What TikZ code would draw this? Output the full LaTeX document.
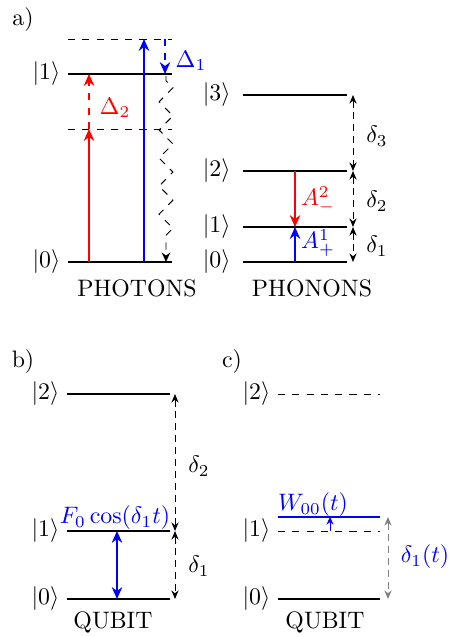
\documentclass[tikz,border=0pt]{standalone}
\usepackage{amsmath}
\usepackage{tikz}
\usetikzlibrary{arrows.meta,positioning,calc,decorations.pathmorphing}
\tikzset{
  level/.style={thick},
  virtlevel/.style={thin, dashed},
  pumparrow/.style={-{Stealth[length=5pt,width=4.4pt]}, semithick},
  twoarrow/.style={{Stealth[length=5pt,width=4.4pt]}-{Stealth[length=5pt,width=4.4pt]}, semithick},
  gaparrow/.style={{Stealth[length=3.6pt,width=3pt]}-{Stealth[length=3.6pt,width=3pt]}, densely dashed, thin},
  decayarrow/.style={-{Stealth[length=4pt,width=3.6pt]}, thin, dashed, decorate,
    decoration={zigzag, segment length=11.8pt, amplitude=2.9pt, pre length=2pt, post length=8pt}},
  ketlabel/.style={left, inner sep=3pt},
  panellabel/.style={inner sep=1pt},
  casetitle/.style={inner sep=1pt}
}

\begin{document}
\begin{tikzpicture}[x=0.42pt, y=-0.42pt]
\useasboundingbox (0,0) rectangle (451,637);

% a) photons
\node[panellabel] (laba) at (23,20) {a)};
\coordinate (pvtl) at (68,39);  \coordinate (pvtr) at (172,39);
\coordinate (p1l) at (68,74);   \coordinate (p1r) at (172,74);
\coordinate (pvml) at (68,129); \coordinate (pvmr) at (172,129);
\coordinate (p0l) at (68,262);  \coordinate (p0r) at (172,262);
\draw[virtlevel] (pvtl) -- (pvtr);
\draw[virtlevel] (pvml) -- (pvmr);
\draw[level] (p1l) -- (p1r);
\draw[level] (p0l) -- (p0r);
\node[ketlabel] (kp1) at (p1l) {$|1\rangle$};
\node[ketlabel] (kp0) at (p0l) {$|0\rangle$};

\coordinate (red0) at (89,262); \coordinate (redm) at (89,129); \coordinate (red1) at (89,74);
\coordinate (blu0) at (144,262); \coordinate (blut) at (144,39);
\coordinate (dett) at (165,39); \coordinate (det1) at (165,74);
\coordinate (zz1) at (166,76); \coordinate (zz0) at (166,262);
\draw[pumparrow, red] (red0) -- (redm);
\draw[pumparrow, red, dashed] (redm) -- (red1);
\draw[pumparrow, blue] (blu0) -- (blut);
\draw[pumparrow, blue, dashed] (dett) -- (det1);
\draw[decayarrow] (zz1) -- (zz0);
\node[blue] (del1) at (191,61) {$\Delta_1$};
\node[red] (del2) at (115,108) {$\Delta_2$};
\node[casetitle] (photons) at (137,288) {PHOTONS};

% phonons
\coordinate (n3l) at (243,95);  \coordinate (n3r) at (347,95);
\coordinate (n2l) at (243,171); \coordinate (n2r) at (347,171);
\coordinate (n1l) at (243,227); \coordinate (n1r) at (347,227);
\coordinate (n0l) at (243,262); \coordinate (n0r) at (347,262);
\draw[level] (n3l) -- (n3r);
\draw[level] (n2l) -- (n2r);
\draw[level] (n1l) -- (n1r);
\draw[level] (n0l) -- (n0r);
\node[ketlabel, xshift=-2pt] (kn3) at (n3l) {$|3\rangle$};
\node[ketlabel, xshift=-2pt] (kn2) at (n2l) {$|2\rangle$};
\node[ketlabel, xshift=-2pt] (kn1) at (n1l) {$|1\rangle$};
\node[ketlabel, xshift=-2pt] (kn0) at (n0l) {$|0\rangle$};

\coordinate (am2) at (295,171); \coordinate (am1) at (295,227); \coordinate (am0) at (295,262);
\draw[pumparrow, red] (am2) -- (am1);
\draw[pumparrow, blue] (am0) -- (am1);
\node[red] (aminus) at (318,200) {$A^2_-$};
\node[blue] (aplus) at (318,243) {$A^1_+$};
\draw[gaparrow] ($(n3r)+(6,0)$) -- ($(n2r)+(6,0)$);
\draw[gaparrow] ($(n2r)+(6,0)$) -- ($(n1r)+(6,0)$);
\draw[gaparrow] ($(n1r)+(6,0)$) -- ($(n0r)+(6,0)$);
\node (nd3) at (377,136) {$\delta_3$};
\node (nd2) at (377,201) {$\delta_2$};
\node (nd1) at (377,246) {$\delta_1$};
\node[casetitle] (phonons) at (312,288) {PHONONS};

% b) qubit
\node[panellabel] (labb) at (23,362) {b)};
\coordinate (b2l) at (67,394); \coordinate (b2r) at (170,394);
\coordinate (b1l) at (67,531); \coordinate (b1r) at (170,531);
\coordinate (b0l) at (67,599); \coordinate (b0r) at (170,599);
\draw[level] (b2l) -- (b2r);
\draw[level] (b1l) -- (b1r);
\draw[level] (b0l) -- (b0r);
\node[ketlabel] (kb2) at (b2l) {$|2\rangle$};
\node[ketlabel] (kb1) at (b1l) {$|1\rangle$};
\node[ketlabel] (kb0) at (b0l) {$|0\rangle$};
\coordinate (drv1) at (117,531); \coordinate (drv0) at (117,599);
\draw[twoarrow, blue] (drv0) -- (drv1);
\node[blue] (drive) at (115,518) {$F_0\cos(\delta_1 t)$};
\draw[gaparrow] ($(b2r)+(5,0)$) -- ($(b1r)+(5,0)$);
\draw[gaparrow] ($(b1r)+(5,0)$) -- ($(b0r)+(5,0)$);
\node (bd2) at (199,466) {$\delta_2$};
\node (bd1) at (199,566) {$\delta_1$};
\node[casetitle] (qubitb) at (113,622) {QUBIT};

% c) qubit
\node[panellabel] (labc) at (232,362) {c)};
\coordinate (c2l) at (278,394); \coordinate (c2r) at (380,394);
\coordinate (cwl) at (278,517); \coordinate (cwr) at (380,517);
\coordinate (c1l) at (278,531); \coordinate (c1r) at (380,531);
\coordinate (c0l) at (278,599); \coordinate (c0r) at (380,599);
\draw[virtlevel] (c2l) -- (c2r);
\draw[virtlevel] (c1l) -- (c1r);
\draw[level, blue] (cwl) -- (cwr);
\draw[level] (c0l) -- (c0r);
\node[ketlabel] (kc2) at (c2l) {$|2\rangle$};
\node[ketlabel] (kc1) at (c1l) {$|1\rangle$};
\node[ketlabel] (kc0) at (c0l) {$|0\rangle$};
\coordinate (sh1) at (330,531); \coordinate (shw) at (330,517);
\draw[-{Stealth[length=3.2pt,width=3pt]}, blue, thin] (sh1) -- (shw);
\node[blue] (shift) at (313,505) {$W_{00}(t)$};
\draw[gaparrow, gray] ($(cwr)+(8,0)$) -- ($(c0r)+(8,0)$);
\node[blue] (cd1) at (425,557) {$\delta_1(t)$};
\node[casetitle] (qubitc) at (325,622) {QUBIT};
\end{tikzpicture}
\end{document}
